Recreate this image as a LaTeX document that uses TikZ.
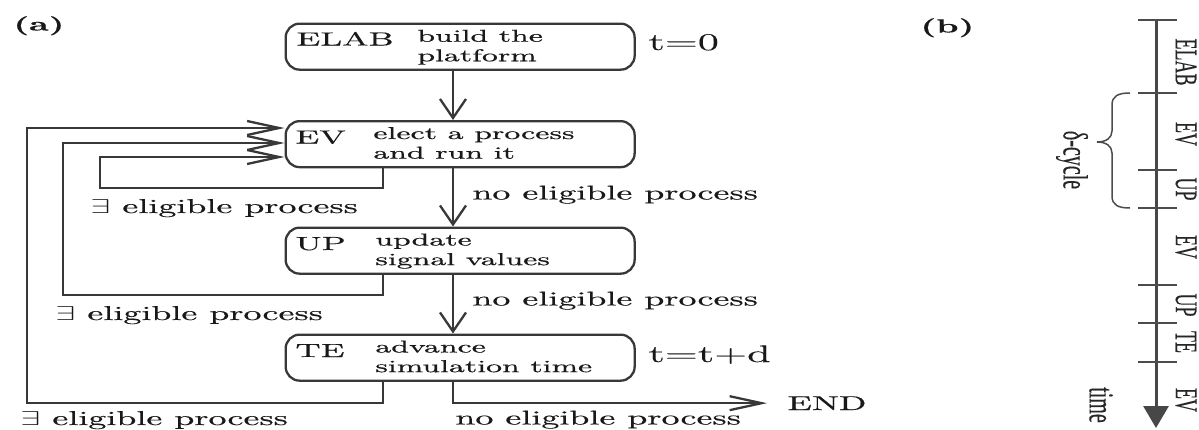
\documentclass[tikz,border=0pt]{standalone}
\usepackage{graphicx}
\usepackage{fontspec}
\setmainfont{Latin Modern Roman}[FakeBold=0.35]
\newfontfamily\tms{Liberation Serif}[FakeBold=0.35]
\usetikzlibrary{arrows.meta}
\newcommand{\hs}[1]{\scalebox{1.8}[1]{#1}}
\newcommand{\vlab}[1]{\scalebox{1.75}[1]{\rotatebox{-90}{#1}}}
\newcommand{\twoline}[2]{\hs{\begin{tabular}[t]{@{}l@{}}#1\\#2\end{tabular}}}
\begin{document}
\begin{tikzpicture}[x=0.5pt,y=-0.5pt,
  ln/.style={line width=1.15pt, draw=black!78},
  box/.style={ln, rounded corners=7pt, minimum width=174.5pt, minimum height=23pt, inner sep=0pt, anchor=north west},
  ttl/.style={inner sep=0pt, anchor=base west, font=\fontsize{9.5}{11}\selectfont, text=black!90},
  dsc/.style={inner sep=0pt, anchor=base west, font=\fontsize{8.6}{9.8}\selectfont, text=black!90},
  lab/.style={inner sep=0pt, anchor=base west, font=\fontsize{10}{12}\selectfont, text=black!90},
  tlab/.style={inner sep=0pt, anchor=base west, font=\fontsize{12}{14}\selectfont, text=black!90},
  plab/.style={inner sep=0pt, anchor=base west, font=\fontsize{9.5}{11}\selectfont\bfseries, text=black!90},
  vhead/.style={-{Straight Barb[length=9.5pt,width=13pt]}},
  hhead/.style={-{Straight Barb[length=16pt,width=7pt]}},
  blab/.style={inner sep=0pt, font=\tms\fontsize{9}{11}\selectfont, text=black!85},
  blab2/.style={inner sep=0pt, font=\tms\fontsize{10}{12}\selectfont, text=black!85},
  axis/.style={line width=1.5pt, draw=black!72},
  tickln/.style={line width=0.9pt, draw=black!70},
  bracel/.style={line width=0.75pt, draw=black!70}]
\useasboundingbox (0,0) rectangle (1199,429);

% ---------- panel (a) ----------
\node[plab] (pa) at (13,30.5) {\hs{(a)}};

\node[box] (elab) at (284.5,22.5) {};
\node[box] (ev)   at (284.5,120) {};
\node[box] (up)   at (284.5,226.5) {};
\node[box] (te)   at (284.5,333.5) {};

\node[ttl] (elabT) at (296,45.5) {\hs{ELAB}};
\node[dsc] (elabD) at (417,41.7) {\twoline{build the}{platform}};
\node[ttl] (evT) at (295,143.5) {\hs{EV}};
\node[dsc] (evD) at (373,139) {\twoline{elect a process}{and run it}};
\node[ttl] (upT) at (295,250) {\hs{UP}};
\node[dsc] (upD) at (375,245.5) {\twoline{update}{signal values}};
\node[ttl] (teT) at (295,357) {\hs{TE}};
\node[dsc] (teD) at (375,352.5) {\twoline{advance}{simulation time}};

\node[tlab] (t0) at (648,50) {\hs{t=0}};
\node[tlab] (ttd) at (648,362) {\hs{t=t+d}};

\coordinate (cx) at (453,0);
\coordinate (lx) at (383,0);
\coordinate (l1) at (100,188);
\coordinate (l2) at (63,295);
\coordinate (l3) at (27,403);
\coordinate (e1) at (284.5,157);
\coordinate (e2) at (284.5,143);
\coordinate (e3) at (284.5,128);

\draw[ln,vhead] (cx |- elab.south) -- (cx |- ev.north);
\draw[ln,vhead] (cx |- ev.south) -- (cx |- up.north);
\draw[ln,vhead] (cx |- up.south) -- (cx |- te.north);

\draw[ln,hhead] (lx |- ev.south) |- (l1) |- (e1);
\draw[ln,hhead] (lx |- up.south) |- (l2) |- (e2);
\draw[ln,hhead] (lx |- te.south) |- (l3) |- (e3);

\node[lab] (endT) at (787,410) {\hs{END}};
\draw[ln,hhead] (cx |- te.south) |- ([xshift=-10pt]endT.west);

\node[lab] (ne1) at (472,199.5) {\hs{no eligible process}};
\node[lab] (ne2) at (472,305.5) {\hs{no eligible process}};
\node[lab] (ne3) at (455,424.5) {\hs{no eligible process}};
\node[lab] (ex1) at (90,213) {\hs{$\exists$ eligible process}};
\node[lab] (ex2) at (55,320) {\hs{$\exists$ eligible process}};
\node[lab] (ex3) at (20,425) {\hs{$\exists$ eligible process}};

% ---------- panel (b) ----------
\node[plab] (pb) at (920,32.5) {\hs{(b)}};

\coordinate (axT) at (1156,20);
\coordinate (axB) at (1156,428);
\draw[axis,-{Triangle[length=11pt,width=12.5pt]}] (axT) -- (axB);
\foreach \yy in {20,93,170,208,285,323,362}
  \draw[tickln] (1138,\yy) -- (1177,\yy);

\node[blab] (bElab) at (1186,62) {\vlab{ELAB}};
\node[blab] (bEv1)  at (1186,134) {\vlab{EV}};
\node[blab] (bUp1)  at (1186,189) {\vlab{UP}};
\node[blab] (bEv2)  at (1186,247) {\vlab{EV}};
\node[blab] (bUp2)  at (1186,305) {\vlab{UP}};
\node[blab] (bTe)   at (1186,342) {\vlab{TE}};
\node[blab] (bEv3)  at (1186,400) {\vlab{EV}};

\draw[bracel] (1130,93) .. controls (1118,93) and (1112,96) .. (1112,105)
  -- (1112,131) .. controls (1112,138) and (1106,142) .. (1097,142)
  .. controls (1106,142) and (1112,146) .. (1112,153)
  -- (1112,196) .. controls (1112,205) and (1118,208) .. (1130,208);
\node[blab2] (dcyc) at (1072,160) {\vlab{δ-cycle}};
\node[blab2] (tim) at (1101,405) {\vlab{time}};
\end{tikzpicture}
\end{document}
